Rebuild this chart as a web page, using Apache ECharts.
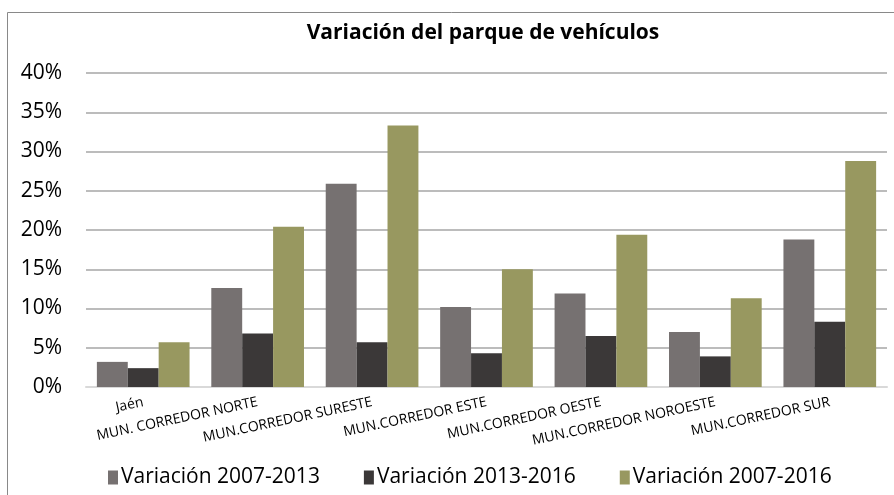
<!DOCTYPE html>
<html>
<head>
<meta charset="utf-8">
<script src="https://cdn.jsdelivr.net/npm/echarts@6/dist/echarts.min.js"></script>
<style>
  html, body { margin: 0; padding: 0; background: #fff; }
  #main { width: 894px; height: 495px; }
</style>
</head>
<body>
<div id="main"></div>
<script>
// categorías y series (valores en %)
var categories = ['Jaén', 'MUN. CORREDOR NORTE', 'MUN.CORREDOR SURESTE', 'MUN.CORREDOR ESTE',
  'MUN.CORREDOR OESTE', 'MUN.CORREDOR NOROESTE', 'MUN.CORREDOR SUR'];
var seriesNames = ['Variación 2007-2013', 'Variación 2013-2016', 'Variación 2007-2016'];
var var0713 = [3.2, 12.6, 25.9, 10.2, 11.9, 7.0, 18.8];
var var1316 = [2.4, 6.8, 5.7, 4.3, 6.5, 3.9, 8.3];
var var0716 = [5.7, 20.4, 33.3, 15.0, 19.4, 11.3, 28.8];
var colors = ['#767171', '#3b3838', '#989860'];

var font = '"Open Sans", sans-serif';

var myChart = echarts.init(document.getElementById('main'));

var option = {
  backgroundColor: '#fff',
  animation: false,
  title: {
    text: 'Variación del parque de vehículos',
    left: 478,
    top: 18,
    textAlign: 'center',
    textStyle: { fontFamily: font, fontSize: 21, fontWeight: 'bold', color: '#000' }
  },
  graphic: [{
    type: 'rect',
    shape: { x: 7.5, y: 12.5, width: 900, height: 500 },
    style: { fill: 'none', stroke: '#898989', lineWidth: 1 },
    silent: true
  }],
  legend: {
    bottom: 2,
    left: 103,
    itemWidth: 10,
    itemHeight: 14,
    itemGap: 44,
    icon: 'rect',
    textStyle: { fontFamily: font, fontSize: 21, color: '#000', padding: [0, 0, 0, -2] },
    data: seriesNames
  },
  grid: { left: 86, right: 7, top: 73, bottom: 108 },
  xAxis: {
    type: 'category',
    data: categories,
    axisTick: { show: false },
    axisLine: { lineStyle: { color: '#d9d9d9', width: 2 } },
    axisLabel: {
      interval: 0,
      rotate: 12,
      margin: 15,
      fontFamily: font,
      fontSize: 14,
      color: '#000'
    }
  },
  yAxis: {
    type: 'value',
    min: 0,
    max: 40,
    interval: 5,
    axisLine: { show: false },
    axisTick: { show: false },
    splitLine: { lineStyle: { color: '#a6a6a6', width: 1.5 } },
    axisLabel: {
      formatter: function (v) { return v + '%'; },
      fontFamily: font,
      fontSize: 21,
      color: '#000',
      margin: 24
    }
  },
  series: [
    { name: seriesNames[0], type: 'bar', data: var0713, barGap: '0%', barCategoryGap: '19%',
      itemStyle: { color: colors[0] } },
    { name: seriesNames[1], type: 'bar', data: var1316, barGap: '0%', barCategoryGap: '19%',
      itemStyle: { color: colors[1] } },
    { name: seriesNames[2], type: 'bar', data: var0716, barGap: '0%', barCategoryGap: '19%',
      itemStyle: { color: colors[2] } }
  ]
};

myChart.setOption(option);
</script>
</body>
</html>
